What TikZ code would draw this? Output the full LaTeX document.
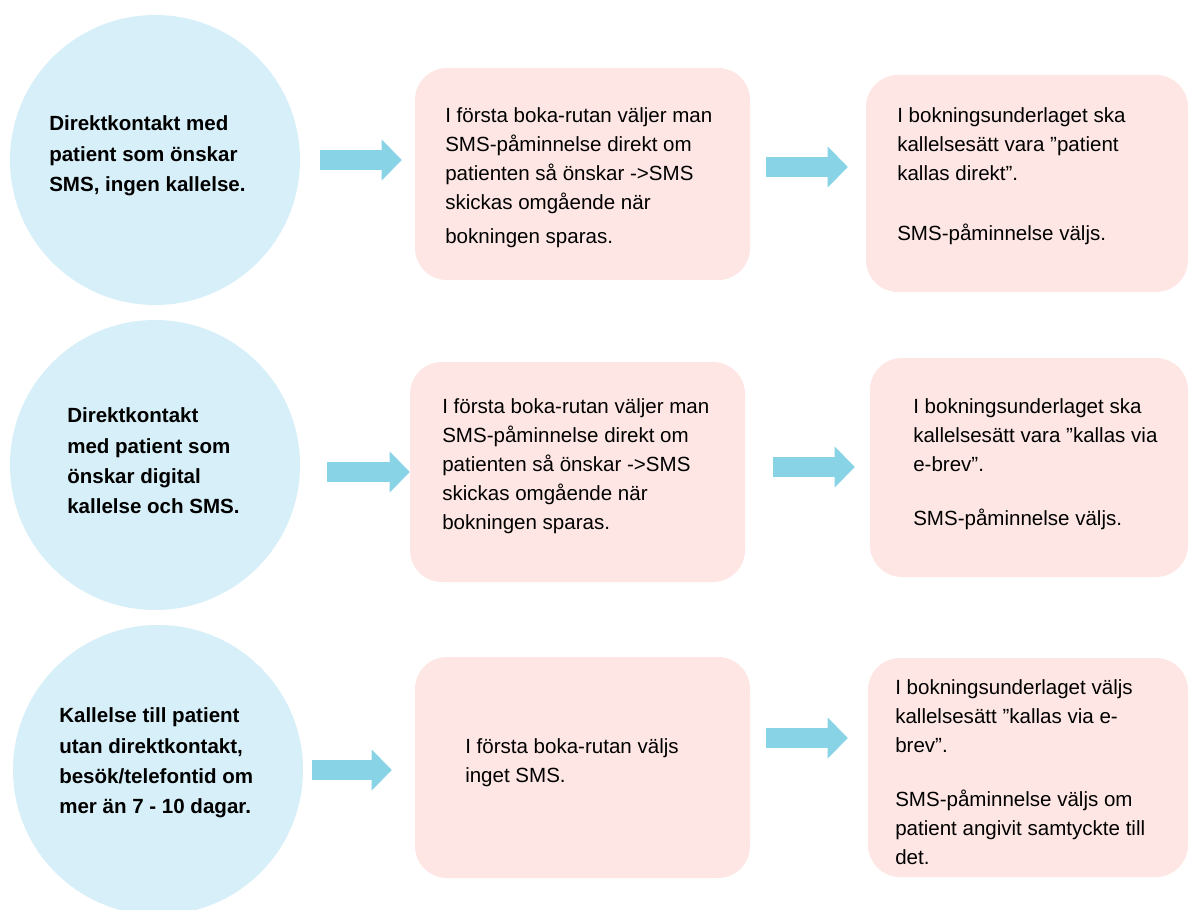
\documentclass[tikz,border=0pt]{standalone}
\usepackage{fontspec}
\setmainfont{Liberation Sans}
\usetikzlibrary{arrows.meta}
\usetikzlibrary{calc}
\definecolor{bubblefill}{RGB}{214,239,248}
\definecolor{cardfill}{RGB}{253,230,227}
\definecolor{flowcol}{RGB}{137,211,230}

\begin{document}
\begin{tikzpicture}[x=0.75pt,y=-0.75pt,
        bubble/.style={circle,fill=bubblefill,inner sep=0pt,minimum size=217.5pt},
        card/.style={rectangle,rounded corners=24pt,fill=cardfill,inner sep=0pt},
        flow/.style={draw=flowcol,line width=15pt,-{Triangle[length=15pt,width=30.75pt,line width=0pt]}},
        txt/.style={anchor=west,inner sep=0pt,align=left,font=\fontsize{15.4}{21.75}\selectfont},
        btxt/.style={anchor=west,inner sep=0pt,align=left,font=\fontsize{15.4}{22.75}\selectfont\bfseries}]
        \useasboundingbox (0,0) rectangle (1189,910);
        % cases
        \node[bubble] (c1) at (155,160) {};
        \node[bubble] (c2) at (155,465) {};
        \node[bubble] (c3) at (158,770) {};
        % boka-rutan
        \node[card,minimum width=251.25pt,minimum height=159pt] (b1) at (582.5,174) {};
        \node[card,minimum width=251.25pt,minimum height=165pt] (b2) at (577.5,472) {};
        \node[card,minimum width=251.25pt,minimum height=165.75pt] (b3) at (582.5,767.5) {};
        % bokningsunderlaget
        \node[card,minimum width=241.5pt,minimum height=162.75pt] (r1) at (1027,183.5) {};
        \node[card,minimum width=238.5pt,minimum height=164.25pt] (r2) at (1029,467.5) {};
        \node[card,minimum width=240pt,minimum height=164.25pt] (r3) at (1028,767.5) {};
        % arrows
        \draw[flow] ($(c1.east)+(20,0)$) -- ($(b1.west |- c1.east)+(-13,0)$);
        \draw[flow] ($(b1.east)+(16,-7)$) -- ($(r1.west |- b1.east)+(-18,-7)$);
        \draw[flow] ($(c2.east)+(27,7)$) -- (b2.west);
        \draw[flow] ($(b2.east)+(28,-5)$) -- ($(r2.west |- b2.east)+(-15,-5)$);
        \draw[flow] ($(c3.east)+(9,0)$) -- ($(b3.west |- c3.east)+(-23,0)$);
        \draw[flow] ($(b3.east)+(16,-29.5)$) -- ($(r3.west |- b3.east)+(-20,-29.5)$);
        % texts
        \node[btxt] (c1t) at (49,156) {Direktkontakt med\\patient som önskar\\SMS, ingen kallelse.};
        \node[btxt] (c2t) at (67,461) {Direktkontakt\\med patient som\\önskar digital\\kallelse och SMS.};
        \node[btxt] (c3t) at (59,763) {Kallelse till patient\\utan direktkontakt,\\besök/telefontid om\\mer än 7 - 10 dagar.};
        \node[txt] (b1t) at (445,177.5) {I första boka-rutan väljer man\\SMS-påminnelse direkt om\\patienten så önskar ->SMS\\skickas omgående när\\[3.75pt]bokningen sparas.};
        \node[txt] (b2t) at (442,466) {I första boka-rutan väljer man\\SMS-påminnelse direkt om\\patienten så önskar ->SMS\\skickas omgående när\\bokningen sparas.};
        \node[txt] (b3t) at (465,762.5) {I första boka-rutan väljs\\inget SMS.};
        \node[txt] (r1t) at (897,176.5) {I bokningsunderlaget ska\\kallelsesätt vara ”patient\\kallas direkt”.\\[23.25pt]SMS-påminnelse väljs.};
        \node[txt] (r2t) at (913,464) {I bokningsunderlaget ska\\kallelsesätt vara ”kallas via\\e-brev”.\\[18.75pt]SMS-påminnelse väljs.};
        \node[txt] (r3t) at (895,772.5) {I bokningsunderlaget väljs\\kallelsesätt ”kallas via e-\\brev”.\\[18.75pt]SMS-påminnelse väljs om\\patient angivit samtyckte till\\det.};
\end{tikzpicture}
\end{document}
